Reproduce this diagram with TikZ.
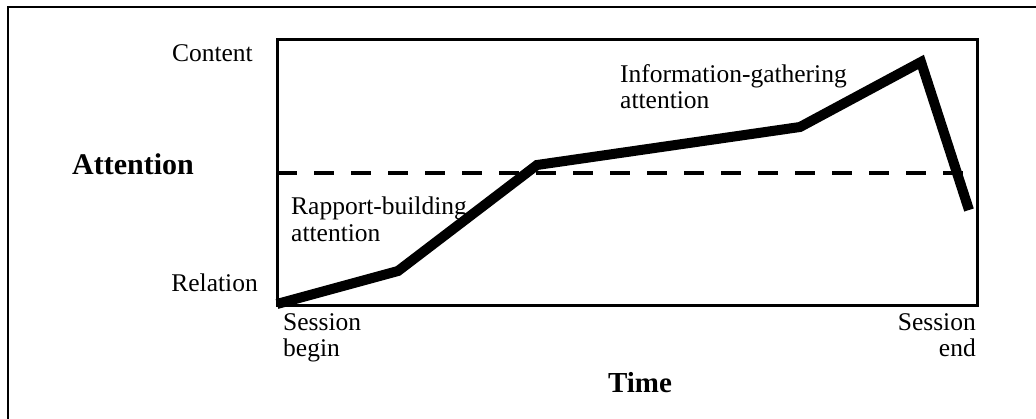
\documentclass[tikz,border=0pt]{standalone}
\usepackage{fontspec}
\setmainfont{Liberation Serif}
\usepackage{tikz}
\usetikzlibrary{positioning}

\tikzset{
  lbl/.style={inner sep=0pt, font=\fontsize{25.5}{26.5}\selectfont},
  axislbl/.style={inner sep=0pt, font=\fontsize{30}{32}\selectfont\bfseries},
  curve/.style={line width=10pt},
  frame/.style={line width=3pt},
  split/.style={line width=3.5pt, dash pattern=on 20pt off 17pt}
}

\begin{document}
\begin{tikzpicture}[x=1pt, y=-1pt]
  \useasboundingbox (0,0) rectangle (1036,419);
  % Outer border
  \draw[line width=2pt] (8,419) |- (1036,7);
  % Plot area
  \coordinate (tl) at (277,40);
  \coordinate (br) at (977,306);
  \draw[frame] (tl) rectangle (br);
  % Define nodes
  \node[lbl, anchor=base east] (content) at (253,62) {Content}; %
  \node[lbl, anchor=base east] (relation) at (258,292) {Relation}; %
  \node[axislbl, anchor=base west] (attention) at (72,175) {Attention};
  \node[axislbl, anchor=base, font=\fontsize{29}{31}\selectfont\bfseries] (time) at (640,392) {Time};
  \node[lbl, anchor=north west, align=left] (begin) at (283,313) {Session\\begin};
  \node[lbl, anchor=north east, align=right] (end) at (976,313) {Session\\end};
  \node[lbl, anchor=north west, align=left] (rapport) at (291,197) {Rapport-building\\attention};
  \node[lbl, anchor=north west, align=left] (info) at (620,64) {Information-gathering\\attention};
  % Threshold
  \coordinate (dl) at (277,173);
  \coordinate (dr) at (978,173);
  \draw[split] (dl) -- (dr);
  % Attention curve
  \coordinate (p0) at (277,304);
  \coordinate (p1) at (398,271);
  \coordinate (p2) at (537,165);
  \coordinate (p3) at (800,127);
  \coordinate (p4) at (921,62);
  \coordinate (p5) at (969,210);
  \draw[curve] (p0) -- (p1) -- (p2) -- (p3) -- (p4) -- (p5);
\end{tikzpicture}
\end{document}
